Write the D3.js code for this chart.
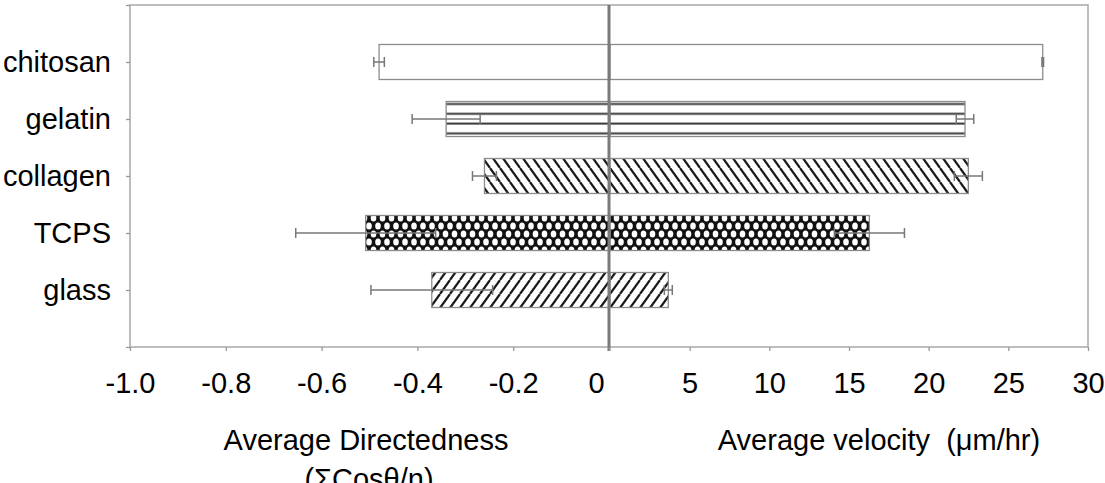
<!DOCTYPE html>
<html>
<head>
<meta charset="utf-8">
<script src="https://cdn.jsdelivr.net/npm/d3@7/dist/d3.min.js"></script>
<style>
  html, body { margin: 0; padding: 0; background: #fff; }
  svg { display: block; }
  text { font-family: "Liberation Sans", Arial, sans-serif; fill: #000; white-space: pre; }
</style>
</head>
<body>
<svg id="chart" width="1105" height="483"></svg>
<script>
// ---- data ----
const categories = ["glass", "TCPS", "collagen", "gelatin", "chitosan"];
const directedness = [-0.370, -0.508, -0.260, -0.340, -0.480];
const directednessErr = [0.127, 0.146, 0.025, 0.071, 0.011];
const velocity = [3.66, 16.28, 22.49, 22.28, 27.16];
const velocityErr = [0.25, 2.2, 0.88, 0.55, 0.05];
const patterns = ["hatchUp", "trellis", "hatchDown", "hlines", "none"];
const dirTicks = [-1.0, -0.8, -0.6, -0.4, -0.2, 0];
const velTicks = [5, 10, 15, 20, 25, 30];
const titleLeft = ["Average Directedness", "(\u03A3Cos\u03B8/n)"];
const titleRight = "Average velocity  (\u03BCm/hr)";

(function () {
// ---- layout ----
const svg = d3.select("#chart");
const pLeft = 130, pRight = 1088, pTop = 5, pBottom = 347, mid = 609;
const xL = d3.scaleLinear().domain([-1, 0]).range([pLeft, mid]);
const xR = d3.scaleLinear().domain([0, 30]).range([mid + 1, pRight]);
const y = d3.scaleLinear().domain([0, 6]).range([pBottom, pTop]);
const barH = 35;
const FS = 29;
const grey = "#999";

// ---- patterns ----
const defs = svg.append("defs");
function hatch(id, dir) {
  const w = 10, h = 14;
  const p = defs.append("pattern").attr("id", id).attr("patternUnits", "userSpaceOnUse")
    .attr("width", w).attr("height", h);
  p.append("rect").attr("width", w).attr("height", h).attr("fill", "#fff");
  const segs = dir === "down"
    ? [[0, 0, w, h], [-w, 0, 0, h], [w, 0, 2 * w, h]]
    : [[0, h, w, 0], [-w, h, 0, 0], [w, h, 2 * w, 0]];
  segs.forEach(s => p.append("line").attr("x1", s[0]).attr("y1", s[1]).attr("x2", s[2]).attr("y2", s[3])
    .attr("stroke", "#1a1a1a").attr("stroke-width", 2.2));
}
hatch("hatchDown", "down");
hatch("hatchUp", "up");
(function () {
  const w = 9, h = 16;
  const p = defs.append("pattern").attr("id", "trellis").attr("patternUnits", "userSpaceOnUse")
    .attr("width", w).attr("height", h).attr("y", 2);
  p.append("rect").attr("width", w).attr("height", h).attr("fill", "#111");
  [[0, 0], [w, 0], [0, h], [w, h], [w / 2, h / 2]].forEach(c =>
    p.append("ellipse").attr("cx", c[0]).attr("cy", c[1]).attr("rx", 2.8).attr("ry", 3.5).attr("fill", "#fff"));
})();
(function () {
  const p = defs.append("pattern").attr("id", "hlines").attr("patternUnits", "userSpaceOnUse")
    .attr("width", 10).attr("height", 9.8).attr("y", 1.5);
  p.append("rect").attr("width", 10).attr("height", 9.8).attr("fill", "#fff");
  p.append("rect").attr("x", 0).attr("y", 3.5).attr("width", 10).attr("height", 2).attr("fill", "#3a3a3a");
})();

// ---- frame ----
svg.append("rect").attr("x", pLeft).attr("y", pTop).attr("width", pRight - pLeft).attr("height", pBottom - pTop)
  .attr("fill", "none").attr("stroke", "#a8a8a8").attr("stroke-width", 1.5);

// ---- bars ----
const idx = d3.range(categories.length);
const fillOf = i => patterns[i] === "none" ? "#fff" : `url(#${patterns[i]})`;
svg.append("g").selectAll("rect").data(idx).join("rect")
  .attr("x", i => xL(directedness[i]))
  .attr("y", i => y(i + 1) - barH / 2)
  .attr("width", i => xL(0) - xL(directedness[i]))
  .attr("height", barH)
  .attr("fill", fillOf).attr("stroke", "#8c8c8c").attr("stroke-width", 1.3);
svg.append("g").selectAll("rect").data(idx).join("rect")
  .attr("x", xR(0))
  .attr("y", i => y(i + 1) - barH / 2)
  .attr("width", i => xR(velocity[i]) - xR(0))
  .attr("height", barH)
  .attr("fill", fillOf).attr("stroke", "#8c8c8c").attr("stroke-width", 1.3);

// ---- error bars ----
function errBars(scale, vals, errs) {
  const g = svg.append("g").attr("stroke", "#777").attr("stroke-width", 1.5);
  idx.forEach(i => {
    const cy = y(i + 1);
    const a = scale(vals[i] - errs[i]), b = scale(vals[i] + errs[i]);
    g.append("line").attr("x1", a).attr("x2", b).attr("y1", cy).attr("y2", cy);
    [a, b].forEach(x => g.append("line").attr("x1", x).attr("x2", x).attr("y1", cy - 5).attr("y2", cy + 5));
  });
}
errBars(xL, directedness, directednessErr);
errBars(xR, velocity, velocityErr);

// ---- divider ----
svg.append("line").attr("x1", mid).attr("x2", mid).attr("y1", pTop).attr("y2", pBottom + 4)
  .attr("stroke", "#7a7a7a").attr("stroke-width", 3);

// ---- axes ----
function styleAxis(g) {
  g.select(".domain").remove();
  g.selectAll(".tick line").attr("stroke", grey).attr("stroke-width", 1.3);
  g.selectAll("text").attr("font-size", FS).attr("font-family", "Liberation Sans, Arial, sans-serif").attr("fill", "#000");
}
const axL = svg.append("g").attr("transform", `translate(0,${pBottom})`)
  .call(d3.axisBottom(xL).tickValues(dirTicks).tickSize(4).tickPadding(21)
    .tickFormat(d => d === 0 ? "0" : d.toFixed(1)));
styleAxis(axL);
axL.selectAll(".tick text").filter(d => d === 0).attr("dx", -13);
const axR = svg.append("g").attr("transform", `translate(0,${pBottom})`)
  .call(d3.axisBottom(xR).tickValues(velTicks).tickSize(4).tickPadding(21).tickFormat(d => String(d)));
styleAxis(axR);
const axY = svg.append("g").attr("transform", `translate(${pLeft},0)`)
  .call(d3.axisLeft(y).tickValues(d3.range(0, 7)).tickSize(4).tickPadding(15)
    .tickFormat(i => categories[i - 1] || ""));
styleAxis(axY);

// ---- titles ----
svg.append("text").attr("x", 366).attr("y", 450).attr("text-anchor", "middle").attr("font-size", FS).text(titleLeft[0]);
svg.append("text").attr("x", 369).attr("y", 489).attr("text-anchor", "middle").attr("font-size", FS).text(titleLeft[1]);
svg.append("text").attr("x", 879).attr("y", 450).attr("text-anchor", "middle").attr("font-size", FS)
  .attr("xml:space", "preserve").text(titleRight);
})();
</script>
</body>
</html>
